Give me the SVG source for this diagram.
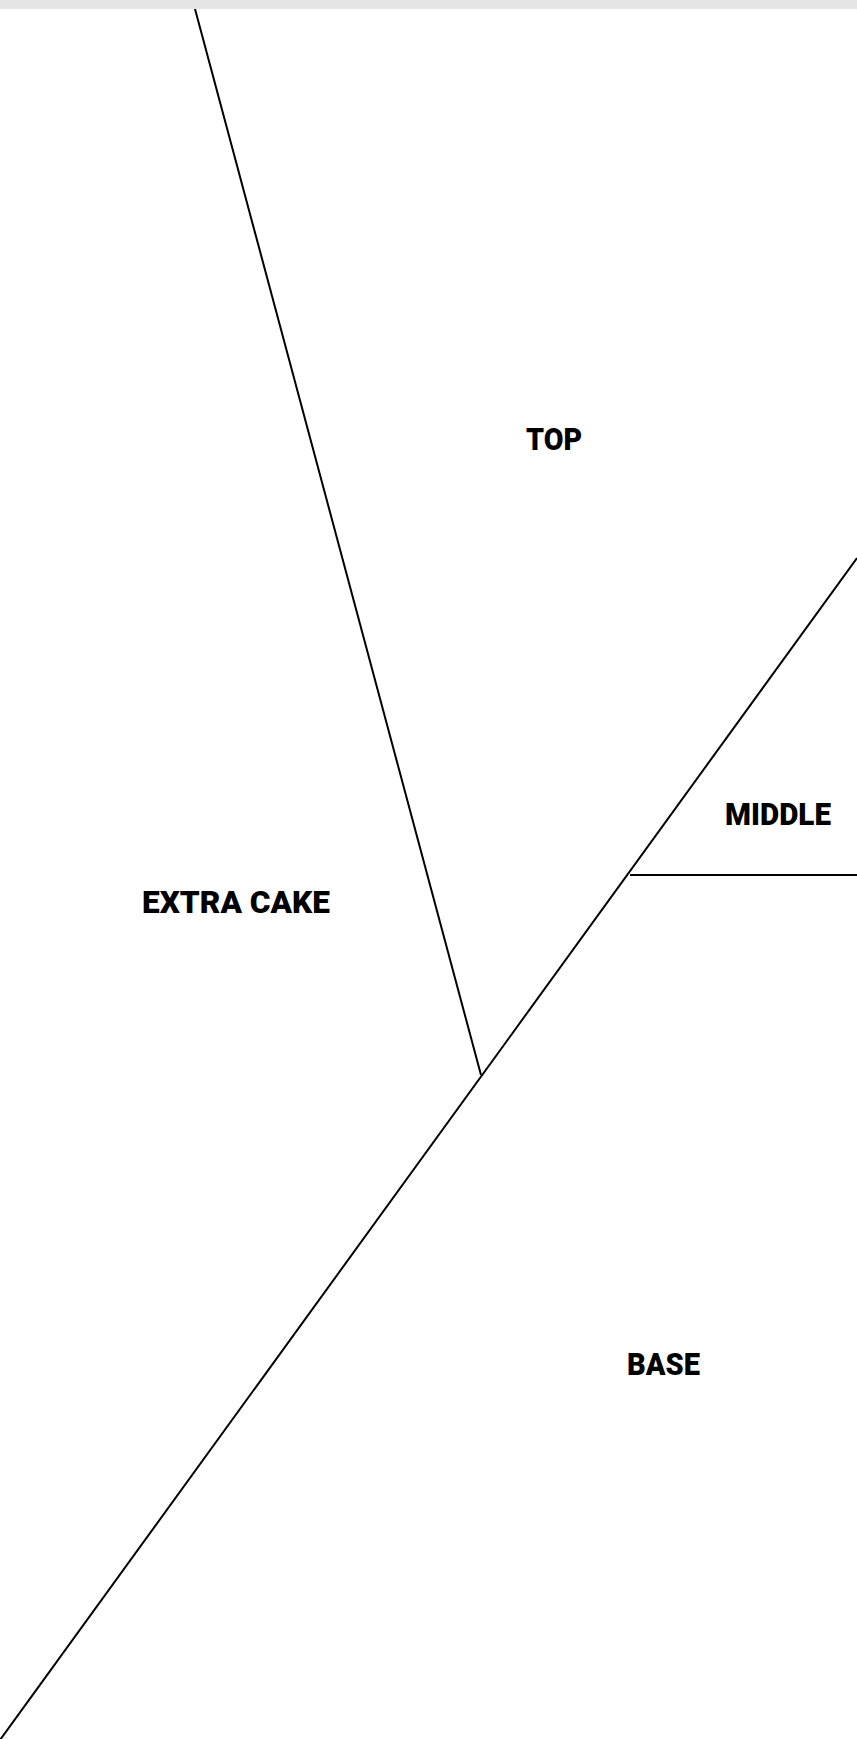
<svg xmlns="http://www.w3.org/2000/svg" width="857" height="1739" viewBox="0 0 857 1739">
<style>
.ln{stroke:#000;stroke-width:2;fill:none}
.lb{font-family:Roboto,"Liberation Sans",sans-serif;font-weight:900;font-size:32px;fill:#000;text-anchor:middle}
</style>
<rect x="0" y="0" width="857" height="1739" fill="#fff"/>
<g id="connectors">
<line class="ln" x1="192.6" y1="0" x2="481" y2="1075"/>
<line class="ln" x1="0" y1="1740" x2="857" y2="558"/>
<line class="ln" x1="630" y1="875" x2="857" y2="875"/>
</g>
<g id="top"><text class="lb" x="554" y="450" textLength="56" lengthAdjust="spacingAndGlyphs">TOP</text></g>
<g id="middle"><text class="lb" x="778" y="825" textLength="106" lengthAdjust="spacingAndGlyphs">MIDDLE</text></g>
<g id="extra-cake"><text class="lb" x="236" y="913" textLength="188" lengthAdjust="spacingAndGlyphs">EXTRA CAKE</text></g>
<g id="base"><text class="lb" x="663.5" y="1375" textLength="73" lengthAdjust="spacingAndGlyphs">BASE</text></g>
<rect x="0" y="0" width="857" height="9" fill="#e5e5e5"/>
</svg>
